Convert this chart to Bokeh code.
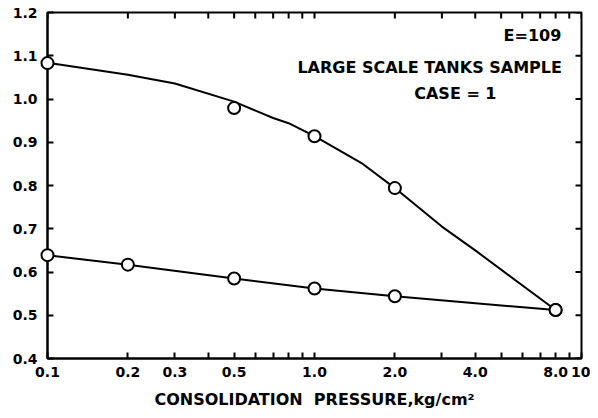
import math
from bokeh.plotting import figure
from bokeh.models import Label, Range1d, FixedTicker, CustomJSTickFormatter
from bokeh.embed import file_html
from bokeh.resources import INLINE

# ---- data ----
upper_x = [0.1, 0.5, 1.0, 2.0, 8.0]
upper_y = [1.083, 0.979, 0.914, 0.794, 0.512]
upper_curve_x = [0.1, 0.2, 0.3, 0.5, 0.7, 0.8, 1.0, 1.5, 2.0, 3.0, 4.0, 8.0]
upper_curve_y = [1.084, 1.056, 1.036, 0.994, 0.956, 0.944, 0.914, 0.852, 0.794, 0.705, 0.650, 0.512]
lower_x = [0.1, 0.2, 0.5, 1.0, 2.0, 8.0]
lower_y = [0.639, 0.617, 0.585, 0.562, 0.544, 0.512]

x_major = [0.1, 0.2, 0.3, 0.5, 1.0, 2.0, 4.0, 8.0, 10.0]
x_labels = ["0.1", "0.2", "0.3", "0.5", "1.0", "2.0", "4.0", "8.0", "10"]
x_minor = [0.4, 0.6, 0.7, 0.8, 0.9, 3.0, 5.0, 6.0, 7.0, 9.0]
y_ticks = [0.4, 0.5, 0.6, 0.7, 0.8, 0.9, 1.0, 1.1, 1.2]
y_labels = ["0.4", "0.5", "0.6", "0.7", "0.8", "0.9", "1.0", "1.1", "1.2"]

X_MIN, X_MAX, Y_MIN, Y_MAX = 0.1, 10.0, 0.4, 1.2
FONT = "DejaVu Sans"

p = figure(width=590, height=414, x_axis_type="log",
           x_range=Range1d(X_MIN, X_MAX), y_range=Range1d(Y_MIN, Y_MAX),
           output_backend="svg", toolbar_location=None,
           min_border_left=47, min_border_right=9, min_border_top=12, min_border_bottom=56)
p.grid.visible = False
p.outline_line_color = "black"
p.outline_line_width = 2
p.outline_line_alpha = 1.0
p.background_fill_color = "white"
p.border_fill_color = "white"

xfmt = CustomJSTickFormatter(args=dict(vals=x_major, labs=x_labels), code="""
const i = vals.findIndex(v => Math.abs(v - tick) < 1e-6 * Math.max(1, Math.abs(v)));
return i >= 0 ? labs[i] : "";
""")
yfmt = CustomJSTickFormatter(args=dict(vals=y_ticks, labs=y_labels), code="""
const i = vals.findIndex(v => Math.abs(v - tick) < 1e-6);
return i >= 0 ? labs[i] : "";
""")


def style_axis(ax):
    ax.axis_line_width = 2
    ax.axis_line_color = "black"
    ax.major_tick_in = 6
    ax.major_tick_out = 0
    ax.minor_tick_in = 6
    ax.minor_tick_out = 0
    ax.major_tick_line_width = 2
    ax.minor_tick_line_width = 2
    ax.major_tick_line_color = "black"
    ax.minor_tick_line_color = "black"
    ax.major_label_text_font = FONT
    ax.major_label_text_font_style = "bold"
    ax.major_label_text_font_size = "14px"
    ax.major_label_text_color = "black"


xaxis = p.xaxis[0]
xaxis.ticker = FixedTicker(ticks=x_major, minor_ticks=x_minor)
xaxis.formatter = xfmt
style_axis(xaxis)
xaxis.major_label_standoff = 8
xaxis.axis_label = "CONSOLIDATION\u00a0\u00a0PRESSURE,kg/cm\u00b2"
xaxis.axis_label_text_font = FONT
xaxis.axis_label_text_font_style = "bold"
xaxis.axis_label_text_font_size = "16px"
xaxis.axis_label_text_color = "black"
xaxis.axis_label_standoff = 10

yaxis = p.yaxis[0]
yaxis.ticker = FixedTicker(ticks=y_ticks)
yaxis.formatter = yfmt
style_axis(yaxis)
yaxis.major_label_standoff = 10
yaxis.minor_tick_in = 0

# inward ticks on the top and right edges of the frame (derived from the tick lists)
TICK_Y = 0.014                    # tick length in y data units (~6 px)
TICK_XF = 10 ** (-6 / 267)        # tick length as a log-x factor (~6 px)
top_ticks = x_major + x_minor
p.segment(x0=top_ticks, y0=[Y_MAX] * len(top_ticks), x1=top_ticks,
          y1=[Y_MAX - TICK_Y] * len(top_ticks), line_color="black", line_width=2)
p.segment(x0=[X_MAX] * len(y_ticks), y0=y_ticks, x1=[X_MAX * TICK_XF] * len(y_ticks),
          y1=y_ticks, line_color="black", line_width=2)

# curves
p.line(upper_curve_x, upper_curve_y, line_color="black", line_width=2)
p.line(lower_x, lower_y, line_color="black", line_width=2)
p.scatter(upper_x, upper_y, marker="circle", size=12, line_color="black",
          line_width=2, fill_color="white", level="overlay")
p.scatter(lower_x, lower_y, marker="circle", size=12, line_color="black",
          line_width=2, fill_color="white", level="overlay")

# annotations
for txt, x, y, align in [("E=109", 8.4, 1.146, "right"),
                         ("LARGE SCALE TANKS SAMPLE", 2.70, 1.073, "center"),
                         ("CASE = 1", 3.37, 1.013, "center")]:
    p.add_layout(Label(x=x, y=y, text=txt, text_align=align, text_baseline="middle",
                       text_font=FONT, text_font_style="bold", text_font_size="16px",
                       text_color="black"))

open("out.html", "w").write(file_html(p, INLINE))
